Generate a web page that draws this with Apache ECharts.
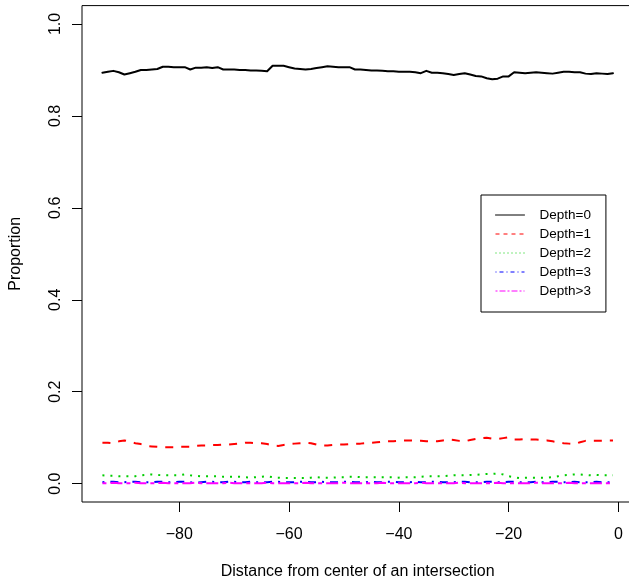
<!DOCTYPE html>
<html><head><meta charset="utf-8">
<script src="https://cdn.jsdelivr.net/npm/echarts@6/dist/echarts.min.js"></script>
<style>html,body{margin:0;padding:0;background:#fff}#c{width:629px;height:579px}</style>
</head><body><div id="c"></div>
<script>
const distance = [
 -94,-93,-92,-91,-90,-89,-88,-87,-86,-85,
 -84,-83,-82,-81,-80,-79,-78,-77,-76,-75,
 -74,-73,-72,-71,-70,-69,-68,-67,-66,-65,
 -64,-63,-62,-61,-60,-59,-58,-57,-56,-55,
 -54,-53,-52,-51,-50,-49,-48,-47,-46,-45,
 -44,-43,-42,-41,-40,-39,-38,-37,-36,-35,
 -34,-33,-32,-31,-30,-29,-28,-27,-26,-25,
 -24,-23,-22,-21,-20,-19,-18,-17,-16,-15,
 -14,-13,-12,-11,-10,-9,-8,-7,-6,-5,
 -4,-3,-2,-1];
const depth0 = [
 0.894,0.896,0.898,0.895,0.890,0.893,0.896,0.900,0.900,0.901,
 0.902,0.907,0.907,0.906,0.906,0.906,0.901,0.905,0.905,0.906,
 0.904,0.906,0.901,0.901,0.901,0.900,0.900,0.899,0.899,0.898,
 0.897,0.909,0.909,0.909,0.906,0.903,0.902,0.901,0.902,0.904,
 0.906,0.908,0.907,0.906,0.906,0.906,0.901,0.901,0.900,0.899,
 0.899,0.898,0.897,0.897,0.896,0.896,0.896,0.895,0.893,0.898,
 0.894,0.894,0.893,0.891,0.889,0.891,0.893,0.890,0.887,0.886,
 0.882,0.880,0.881,0.886,0.886,0.895,0.894,0.893,0.894,0.895,
 0.894,0.893,0.892,0.894,0.896,0.896,0.895,0.895,0.892,0.891,
 0.893,0.892,0.891,0.893];
const depth1 = [
 0.089,0.089,0.088,0.092,0.094,0.091,0.088,0.086,0.082,0.081,
 0.080,0.079,0.079,0.079,0.080,0.080,0.080,0.082,0.083,0.083,
 0.084,0.084,0.085,0.085,0.086,0.087,0.089,0.089,0.088,0.088,
 0.086,0.083,0.082,0.084,0.086,0.087,0.088,0.089,0.088,0.085,
 0.083,0.083,0.084,0.085,0.085,0.086,0.087,0.087,0.088,0.089,
 0.090,0.091,0.092,0.092,0.093,0.094,0.094,0.093,0.093,0.092,
 0.092,0.092,0.094,0.096,0.095,0.093,0.092,0.095,0.097,0.099,
 0.100,0.098,0.097,0.099,0.101,0.096,0.096,0.097,0.096,0.096,
 0.095,0.094,0.092,0.090,0.088,0.087,0.086,0.090,0.093,0.093,
 0.093,0.093,0.094,0.094];
const depth2 = [
 0.018,0.017,0.017,0.016,0.016,0.016,0.016,0.018,0.019,0.020,
 0.019,0.018,0.018,0.018,0.018,0.020,0.018,0.017,0.016,0.016,
 0.016,0.016,0.015,0.015,0.015,0.015,0.014,0.013,0.014,0.015,
 0.016,0.014,0.013,0.012,0.012,0.012,0.012,0.012,0.013,0.014,
 0.013,0.013,0.013,0.014,0.014,0.015,0.015,0.014,0.014,0.014,
 0.014,0.014,0.014,0.014,0.013,0.014,0.014,0.014,0.015,0.016,
 0.016,0.016,0.016,0.017,0.018,0.018,0.018,0.019,0.019,0.020,
 0.021,0.021,0.022,0.020,0.016,0.014,0.012,0.013,0.013,0.013,
 0.013,0.013,0.014,0.016,0.018,0.019,0.020,0.020,0.019,0.018,
 0.019,0.018,0.018,0.018];
const depth3 = [
 0.003,0.004,0.004,0.003,0.003,0.004,0.004,0.003,0.003,0.003,
 0.004,0.004,0.003,0.003,0.004,0.004,0.003,0.002,0.003,0.004,
 0.004,0.003,0.003,0.004,0.004,0.003,0.003,0.004,0.003,0.003,
 0.003,0.004,0.004,0.003,0.003,0.003,0.004,0.004,0.003,0.003,
 0.004,0.003,0.003,0.003,0.004,0.004,0.003,0.003,0.003,0.004,
 0.003,0.003,0.004,0.004,0.003,0.003,0.003,0.004,0.003,0.003,
 0.004,0.004,0.003,0.003,0.003,0.004,0.004,0.003,0.003,0.003,
 0.004,0.004,0.003,0.003,0.004,0.004,0.003,0.003,0.003,0.004,
 0.003,0.003,0.004,0.004,0.003,0.003,0.004,0.003,0.003,0.003,
 0.004,0.003,0.003,0.003];
const depthGt3 = [
 0.001,0.001,0.002,0.001,0.001,0.001,0.002,0.001,0.001,0.001,
 0.001,0.002,0.001,0.001,0.001,0.001,0.001,0.002,0.001,0.001,
 0.001,0.001,0.001,0.002,0.001,0.001,0.001,0.001,0.001,0.001,
 0.002,0.001,0.001,0.001,0.001,0.001,0.001,0.002,0.001,0.001,
 0.001,0.001,0.001,0.001,0.002,0.001,0.001,0.001,0.001,0.001,
 0.001,0.002,0.001,0.001,0.001,0.001,0.001,0.001,0.002,0.001,
 0.001,0.001,0.001,0.001,0.001,0.002,0.001,0.001,0.001,0.001,
 0.001,0.001,0.002,0.001,0.001,0.001,0.001,0.001,0.001,0.002,
 0.001,0.001,0.001,0.001,0.001,0.002,0.001,0.001,0.001,0.001,
 0.001,0.001,0.001,0.001];
const seriesNames = ['Depth=0','Depth=1','Depth=2','Depth=3','Depth>3'];
const xTicks = [-80,-60,-40,-20,0];
const yTicks = [0,0.2,0.4,0.6,0.8,1.0];

const FONT = "'Liberation Sans', Arial, Helvetica, sans-serif";
const colors = ['#000000','#FF0000','#00CD00','#0000FF','#FF00FF'];
const plotDash = ['solid',[8,8],[2,6],[2,6,8,6],[4,4,12,4]];
const legDash = ['solid',[4,4],[1,3],[1,3,4,3],[2,2,6,2]];
const values = [depth0,depth1,depth2,depth3,depthGt3];

const chart = echarts.init(document.getElementById('c'), null, {renderer:'canvas'});
const series = seriesNames.map((n,i)=>({
  name:n, type:'line', symbol:'none', animation:false,
  data: distance.map((d,k)=>[d, values[i][k]]),
  lineStyle:{color:colors[i], width:2, type:plotDash[i], cap: i===0?'round':'butt', join:'round'},
  itemStyle:{color:colors[i]}
}));
chart.setOption({
  backgroundColor:'#fff',
  animation:false,
  textStyle:{fontFamily:FONT},
  grid:{left:82, top:5.6, right:-4.4, bottom:77, show:true, borderColor:'#000', borderWidth:1,
    backgroundColor:'transparent', containLabel:false, outerBoundsMode:'none'},
  xAxis:{type:'value', min:-97.72, max:2.72,
    name:'Distance from center of an intersection', nameLocation:'middle', nameGap:62,
    nameTextStyle:{fontSize:16, color:'#000', fontFamily:FONT},
    axisLine:{show:false, onZero:false}, splitLine:{show:false},
    axisTick:{show:true, customValues:xTicks, length:10, lineStyle:{color:'#000'}},
    axisLabel:{customValues:xTicks, fontSize:16, color:'#000', margin:25, fontFamily:FONT,
      formatter:v=> v<0 ? '\u2212'+Math.abs(v) : String(v)}
  },
  yAxis:{type:'value', min:-0.04, max:1.04,
    name:'Proportion', nameLocation:'middle', nameGap:58, nameRotate:90,
    nameTextStyle:{fontSize:16, color:'#000', fontFamily:FONT},
    axisLine:{show:false, onZero:false}, splitLine:{show:false},
    axisTick:{show:true, customValues:yTicks, length:10, lineStyle:{color:'#000'}},
    axisLabel:{customValues:yTicks, fontSize:16, color:'#000', margin:18, rotate:90, fontFamily:FONT,
      formatter:v=>v.toFixed(1)}
  },
  legend:{orient:'vertical', left:481, top:195, padding:[13,15,14,14],
    itemWidth:29, itemHeight:14, itemGap:5,
    borderColor:'#000', borderWidth:1, backgroundColor:'#fff', borderRadius:0,
    textStyle:{fontSize:13.5, color:'#000', fontFamily:FONT, padding:[0,0,0,10]},
    data: seriesNames.map((n,i)=>({name:n, itemStyle:{opacity:0}, lineStyle:{width:1, type:legDash[i], color:colors[i]}}))
  },
  series: series
});
</script></body></html>
